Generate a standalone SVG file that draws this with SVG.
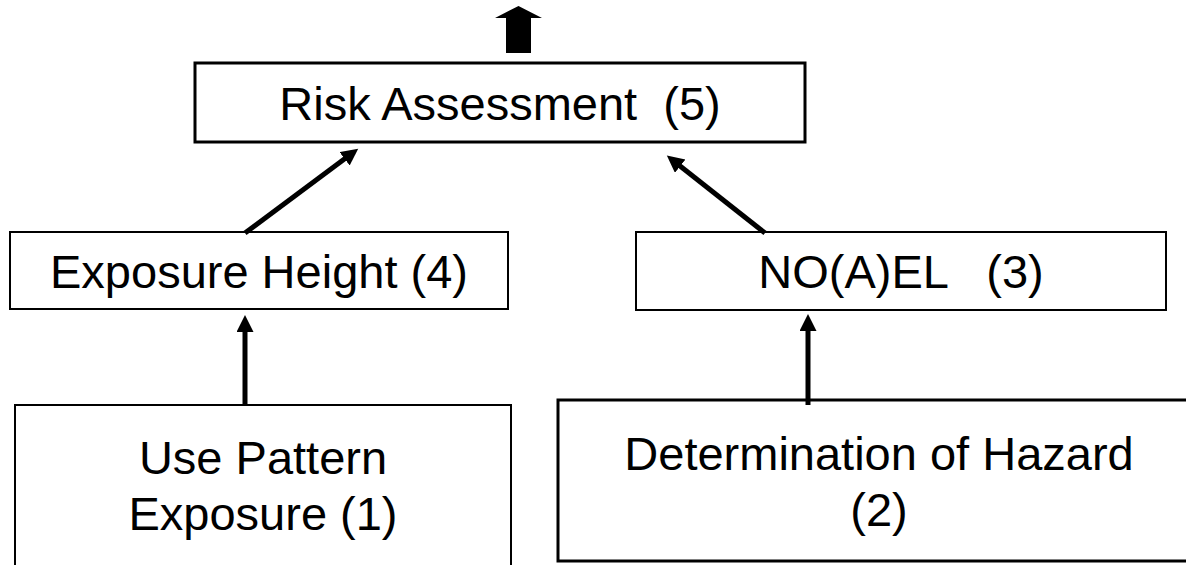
<svg xmlns="http://www.w3.org/2000/svg" width="1186" height="565" viewBox="0 0 1186 565">
  <style>
    .box { fill: #ffffff; stroke: #000000; stroke-width: 2; }
    .thick { stroke-width: 3; }
    .lbl { font-family: "Liberation Sans", Arial, sans-serif; font-size: 47px; fill: #000000; text-anchor: middle; white-space: pre; }
    .arrow { stroke: #000000; stroke-width: 5; fill: none; marker-end: url(#head); }
  </style>
  <defs>
    <marker id="head" markerUnits="userSpaceOnUse" markerWidth="18" markerHeight="18" refX="1" refY="8.5" orient="auto">
      <path d="M0,0 L17,8.5 L0,17 z" fill="#000000"/>
    </marker>
  </defs>
  <rect width="1186" height="565" fill="#ffffff"/>

  <g id="output-arrow">
    <polygon points="495,18 518.5,6 542,18 531,18 531,53 506,53 506,18" fill="#000000"/>
  </g>

  <g id="node-risk">
    <rect class="box thick" x="195" y="63" width="610" height="79"/>
    <text class="lbl" x="500" y="120" xml:space="preserve">Risk Assessment  (5)</text>
  </g>

  <g id="node-exposure-height">
    <rect class="box" x="10" y="232" width="498" height="77"/>
    <text class="lbl" x="259" y="288" xml:space="preserve">Exposure Height (4)</text>
  </g>

  <g id="node-noael">
    <rect class="box" x="636" y="232" width="530" height="78"/>
    <text class="lbl" x="901" y="288" xml:space="preserve">NO(A)EL   (3)</text>
  </g>

  <g id="node-use-pattern">
    <rect class="box" x="15" y="405" width="496" height="180"/>
    <text class="lbl" x="263" y="474">Use Pattern</text>
    <text class="lbl" x="263" y="530">Exposure (1)</text>
  </g>

  <g id="node-hazard">
    <rect class="box thick" x="558" y="400" width="660" height="161"/>
    <text class="lbl" x="879" y="470">Determination of Hazard</text>
    <text class="lbl" x="879" y="526">(2)</text>
  </g>

  <g id="connectors">
    <line class="arrow" x1="245" y1="233" x2="345.4" y2="158.2"/>
    <line class="arrow" x1="765" y1="233" x2="679.4" y2="165.5"/>
    <line class="arrow" x1="245" y1="405" x2="245" y2="331"/>
    <line class="arrow" x1="808" y1="405" x2="808" y2="330"/>
  </g>
</svg>
